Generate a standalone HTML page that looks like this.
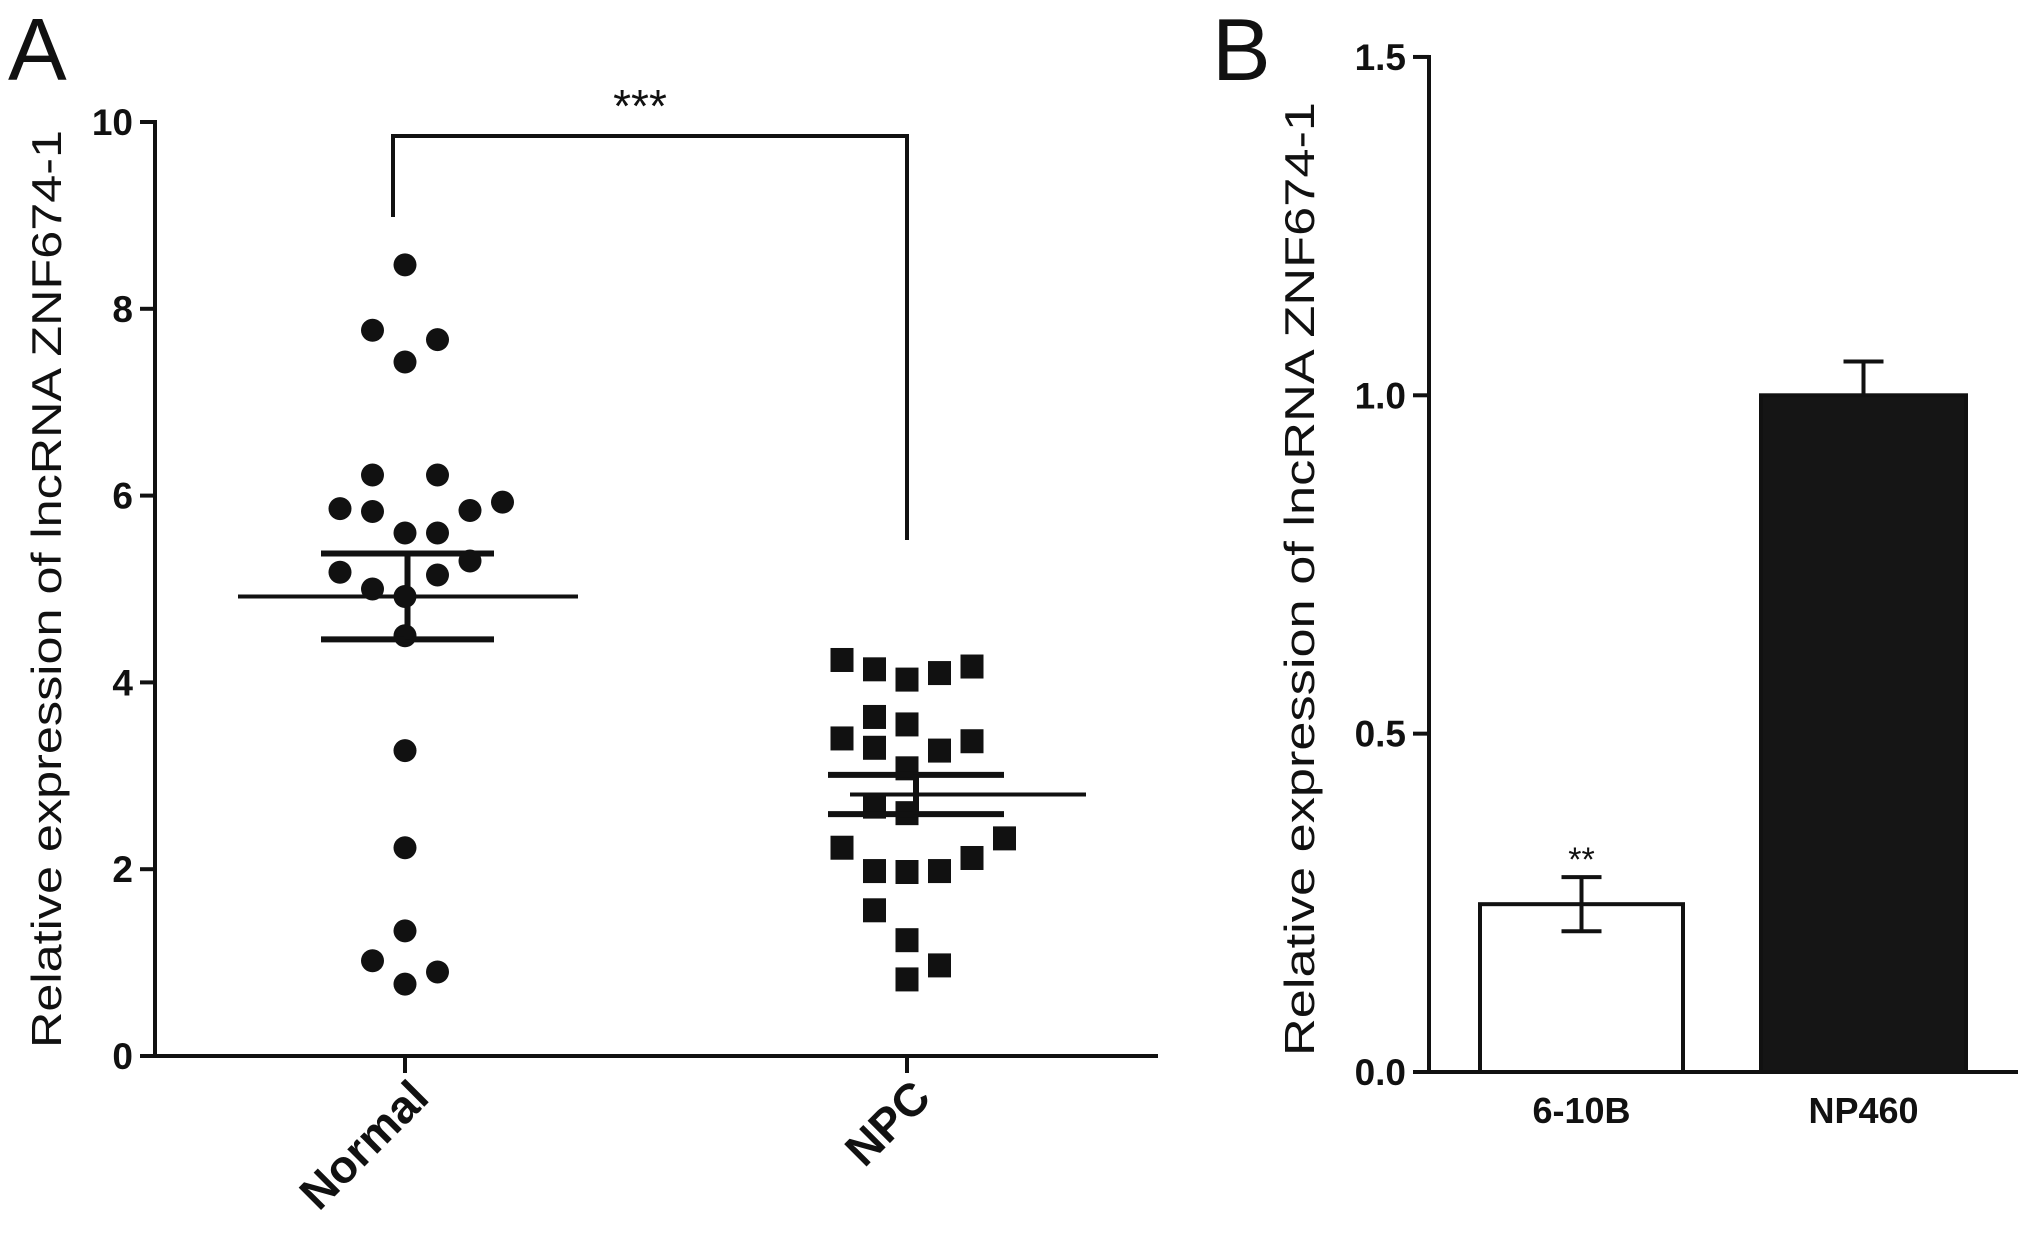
<!DOCTYPE html>
<html><head><meta charset="utf-8"><style>
html,body{margin:0;padding:0;background:#fff;}
svg{display:block;font-family:"Liberation Sans",Arial,sans-serif;}
</style></head><body>
<svg id="fig" width="2031" height="1234" viewBox="0 0 2031 1234">
<g id="A"></g>
<g id="B"></g>
</svg>
<script>
const NS="http://www.w3.org/2000/svg";
// Panel A data
const aCategories=["Normal","NPC"];
const aTicks=[0,2,4,6,8,10];
const normalOffsets=[0,-1,1,0,-1,1,-2,-1,2,3,0,1,2,-2,1,-1,0,0,0,0,0,-1,1,0];
const normalValues=[8.47,7.77,7.67,7.43,6.22,6.22,5.86,5.83,5.84,5.93,5.6,5.6,5.3,5.18,5.15,5.0,4.92,4.5,3.27,2.23,1.34,1.02,0.9,0.77];
const npcOffsets=[-2,-1,0,1,2,-1,0,-2,-1,1,2,0,-1,0,-2,3,-1,0,1,2,-1,0,1,0];
const npcValues=[4.24,4.14,4.03,4.1,4.17,3.63,3.55,3.4,3.3,3.27,3.37,3.08,2.67,2.6,2.23,2.33,1.98,1.97,1.98,2.12,1.56,1.24,0.97,0.82];
const aMeans=[4.92,2.8];
const aSems=[0.46,0.21];
// Panel B data
const bCategories=["6-10B","NP460"];
const bValues=[0.248,1.0];
const bErrors=[0.04,0.05];
const bTicks=["0.0","0.5","1.0","1.5"];

function mk(parent,tag,attrs,text){const e=document.createElementNS(NS,tag);for(const k in attrs)e.setAttribute(k,attrs[k]);if(text!==undefined)e.textContent=text;parent.appendChild(e);return e;}
const A=document.getElementById('A'), B=document.getElementById('B');
const S="#111";
// ---------- Panel A ----------
const ay=v=>1056-v*93.4;
const ax=[405,907];
let e;
e=mk(A,'text',{x:8,y:80,'font-size':88,fill:S},'A');

e=mk(A,'line',{x1:155,y1:120,x2:155,y2:1058,stroke:S,'stroke-width':4});

e=mk(A,'line',{x1:153,y1:1056,x2:1158,y2:1056,stroke:S,'stroke-width':4});

aTicks.forEach(t=>{
  e=mk(A,'line',{x1:140,y1:ay(t),x2:155,y2:ay(t),stroke:S,'stroke-width':4});
  
  e=mk(A,'text',{x:133,y:ay(t)+13,'font-size':37,'font-weight':'bold','text-anchor':'end',fill:S},String(t));
  
});
e=mk(A,'text',{x:0,y:0,'font-size':42,fill:S,'text-anchor':'middle',transform:'translate(61,589) rotate(-90)',textLength:918,lengthAdjust:'spacingAndGlyphs'},'Relative expression  of lncRNA ZNF674-1');

aCategories.forEach((c,i)=>{
  e=mk(A,'line',{x1:ax[i],y1:1056,x2:ax[i],y2:1073,stroke:S,'stroke-width':4});
  
  e=mk(A,'text',{x:0,y:0,'font-size':46,'font-weight':'bold','text-anchor':'end',fill:S,transform:`translate(${ax[i]+26},1100) rotate(-45)`},c);
  
});
normalValues.forEach((v,i)=>{
  e=mk(A,'circle',{cx:ax[0]+normalOffsets[i]*32.5,cy:ay(v),r:11.5,fill:S});
  
});
npcValues.forEach((v,i)=>{
  const cx=ax[1]+npcOffsets[i]*32.5;
  e=mk(A,'rect',{x:cx-11.5,y:ay(v)-12,width:23,height:24,fill:S});
  
});
const meanL=[238,850], meanR=[578,1086], semL=[321,828], semR=[494,1004];
aMeans.forEach((m,i)=>{
  const sx=(semL[i]+semR[i])/2;
  e=mk(A,'line',{x1:meanL[i],y1:ay(m),x2:meanR[i],y2:ay(m),stroke:S,'stroke-width':4});
  
  [m+aSems[i],m-aSems[i]].forEach(v=>{
    e=mk(A,'line',{x1:semL[i],y1:ay(v),x2:semR[i],y2:ay(v),stroke:S,'stroke-width':6});
    
  });
  e=mk(A,'line',{x1:sx,y1:ay(m+aSems[i]),x2:sx,y2:ay(m-aSems[i]),stroke:S,'stroke-width':6});
  
});
e=mk(A,'polyline',{points:'393,217 393,136 907,136 907,540',fill:'none',stroke:S,'stroke-width':4});

e=mk(A,'text',{x:640,y:122,'font-size':46,'text-anchor':'middle',fill:S},'***');


// ---------- Panel B ----------
const by=v=>1072-v*676.7;
const bx=[[1480,1683],[1761,1966]];
e=mk(B,'text',{x:1212,y:80,'font-size':88,fill:S},'B');

e=mk(B,'line',{x1:1429,y1:55,x2:1429,y2:1074,stroke:S,'stroke-width':4});

e=mk(B,'line',{x1:1413,y1:1072,x2:2018,y2:1072,stroke:S,'stroke-width':4});

bTicks.forEach(t=>{
  const v=parseFloat(t);
  e=mk(B,'line',{x1:1413,y1:by(v),x2:1429,y2:by(v),stroke:S,'stroke-width':4});
  
  e=mk(B,'text',{x:1406,y:by(v)+13,'font-size':37,'font-weight':'bold','text-anchor':'end',fill:S},t);
  
});
e=mk(B,'text',{x:0,y:0,'font-size':42,fill:S,'text-anchor':'middle',transform:'translate(1314,579) rotate(-90)',textLength:954,lengthAdjust:'spacingAndGlyphs'},'Relative expression of lncRNA ZNF674-1');

bCategories.forEach((c,i)=>{
  const [x0,x1]=bx[i], cx=(x0+x1)/2;
  e=mk(B,'rect',{x:x0,y:by(bValues[i]),width:x1-x0,height:1072-by(bValues[i]),fill:i==0?'#fff':'#151515',stroke:S,'stroke-width':4});
  
  const top=by(bValues[i]+bErrors[i]);
  const bot=i==0?by(bValues[i]-bErrors[i]):by(bValues[i]);
  e=mk(B,'line',{x1:cx,y1:top,x2:cx,y2:bot,stroke:S,'stroke-width':4});
  
  e=mk(B,'line',{x1:cx-20,y1:top,x2:cx+20,y2:top,stroke:S,'stroke-width':4});
  
  if(i==0){
    e=mk(B,'line',{x1:cx-20,y1:bot,x2:cx+20,y2:bot,stroke:S,'stroke-width':4});
    
  }
  e=mk(B,'text',{x:cx,y:1123,'font-size':36,'font-weight':'bold','text-anchor':'middle',fill:S},c);
  
});
e=mk(B,'text',{x:(bx[0][0]+bx[0][1])/2,y:by(bValues[0]+bErrors[0])-6,'font-size':34,'text-anchor':'middle',fill:S},'**');

</script>
</body></html>
